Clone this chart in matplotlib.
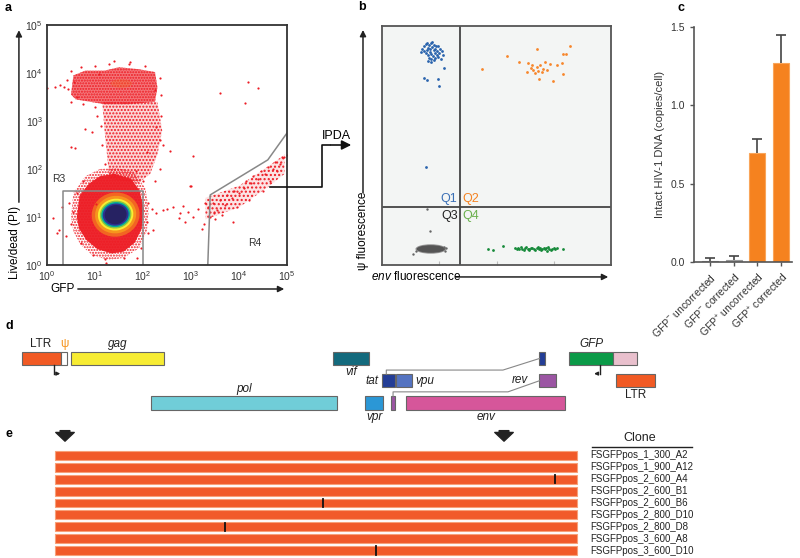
import numpy as np
import matplotlib
matplotlib.use('Agg')
import matplotlib.pyplot as plt
from matplotlib.patches import Polygon, Ellipse

plt.rcParams['font.family'] = ['Liberation Sans', 'DejaVu Sans']
plt.rcParams['mathtext.fontset'] = 'custom'
plt.rcParams['mathtext.rm'] = 'Liberation Sans'
plt.rcParams['mathtext.it'] = 'Liberation Sans:italic'
plt.rcParams['mathtext.bf'] = 'Liberation Sans:bold'
plt.rcParams['hatch.linewidth'] = 1.0

# ---------------- data ----------------
# panel a: flow cytometry (log10 units), dense populations as outlines
a_main_outline = [(0.62, 1.0), (0.68, 1.45), (0.88, 1.7), (1.1, 1.85), (1.4, 1.9), (1.75, 1.8),
                  (1.93, 1.55), (2.02, 1.15), (1.97, 0.75), (1.83, 0.47), (1.6, 0.28), (1.35, 0.24),
                  (1.05, 0.33), (0.82, 0.52), (0.67, 0.75)]
a_halo_outline = [(0.5, 1.0), (0.55, 1.5), (0.8, 1.85), (1.1, 2.0), (1.45, 2.02), (1.8, 1.95),
                  (2.05, 1.6), (2.12, 1.15), (2.08, 0.7), (1.92, 0.35), (1.6, 0.15), (1.3, 0.1),
                  (0.95, 0.2), (0.7, 0.42), (0.55, 0.7)]
a_column_outline = [(1.3, 1.8), (1.25, 2.3), (1.2, 2.8), (1.15, 3.4), (2.3, 3.4), (2.4, 2.8),
                    (2.3, 2.3), (2.15, 1.9), (1.9, 1.7)]
a_upper_outline = [(0.5, 3.55), (0.55, 3.95), (0.8, 4.05), (1.2, 4.05), (1.5, 4.12), (1.9, 4.08),
                   (2.25, 4.02), (2.3, 3.7), (2.25, 3.4), (1.7, 3.35), (1.2, 3.35), (0.9, 3.4), (0.6, 3.45)]
a_tail_outline = [(3.3, 1.4), (4.0, 1.65), (4.6, 2.05), (4.95, 2.3), (4.95, 1.9), (4.6, 1.62),
                  (4.0, 1.2), (3.3, 0.95)]
a_core_center = (1.43, 1.05)
a_core_rx = [0.50, 0.43, 0.37, 0.33, 0.30, 0.27, 0.23]
a_core_ry = [0.46, 0.39, 0.33, 0.29, 0.26, 0.23, 0.20]
a_pts_x = [0.01, 0.17, 0.27, 0.44, 0.56, 0.62, 1.40, 1.73, 1.08, 3.60, 4.19, 4.40, 4.12, 3.05, 2.56,
           0.51, 0.58, 3.01, 2.98, 0.13, 0.20, 0.24, 0.31, 1.87, 1.23, 2.42, 2.49, 2.63, 2.77, 2.74,
           2.875, 2.83, 2.94, 3.05, 3.15, 3.22, 3.27, 3.47, 3.88, 4.99, 4.93, 2.18, 2.28, 2.08, 2.35,
           2.28, 2.25, 0.93, 0.79, 1.03, 2.11, 2.21,
           0.55, 0.5, 0.62, 0.7, 0.95, 1.2, 1.6, 1.95, 2.08, 2.1, 2.0, 1.85, 0.75, 0.45, 0.4,
           0.35, 0.42, 0.5, 0.7, 1.0, 1.3, 1.7, 2.05, 2.35, 2.38, 0.5, 0.75, 1.0,
           1.12, 1.15, 1.2, 2.38, 2.42, 2.35, 2.25, 1.05,
           3.35, 3.45, 3.55, 3.6, 3.7, 3.75, 3.85, 3.9, 4.0, 4.1, 4.15, 4.25, 4.3, 4.4, 4.45, 4.55,
           4.6, 4.7, 4.75, 4.85, 4.9, 3.5, 3.65, 3.95, 4.2, 4.5, 3.3, 3.4, 4.65, 4.8]
a_pts_y = [3.68, 3.70, 3.75, 3.66, 3.82, 3.51, 4.26, 4.22, 3.98, 3.59, 3.82, 3.68, 3.38, 2.27, 2.38,
           2.46, 2.43, 1.65, 1.65, 0.97, 0.67, 0.72, 1.21, 0.14, 0.04, 1.15, 1.16, 1.20, 1.08, 0.97,
           0.90, 1.22, 1.11, 1.01, 1.16, 0.76, 0.86, 1.08, 0.90, 2.29, 2.26, 1.16, 1.08, 2.36, 2.60,
           2.88, 3.64, 2.78, 2.83, 1.28, 0.66, 0.73,
           1.1, 0.85, 1.5, 0.45, 0.2, 0.12, 0.15, 0.35, 0.9, 1.3, 1.75, 1.95, 1.75, 1.3, 0.6,
           3.7, 3.85, 4.05, 4.12, 4.15, 4.18, 4.18, 4.15, 3.9, 3.55, 3.4, 3.35, 3.3,
           2.9, 2.5, 2.1, 3.1, 2.5, 2.0, 1.75, 3.1,
           1.2, 1.3, 1.15, 1.35, 1.25, 1.45, 1.4, 1.55, 1.5, 1.6, 1.75, 1.7, 1.85, 1.8, 1.95, 1.9,
           2.05, 2.0, 2.15, 2.1, 2.25, 0.95, 1.05, 1.2, 1.35, 1.55, 1.3, 1.0, 1.75, 1.95]
a_gate_r3 = (0.33, 2.0, 1.54)  # x from, x to, top
a_gate_r4_x = [3.35, 3.4, 4.6, 5.0]
a_gate_r4_y = [0.0, 1.46, 2.19, 2.75]
a_ticks = [0, 1, 2, 3, 4, 5]

# panel b: IPDA droplet plot (arbitrary fluorescence units)
b_env_cut = 0.34
b_psi_cut = 0.243
bq1_x = [0.175, 0.182, 0.19, 0.198, 0.205, 0.212, 0.22, 0.228, 0.236, 0.245, 0.255, 0.262, 0.185,
         0.195, 0.203, 0.21, 0.218, 0.225, 0.232, 0.24, 0.248, 0.19, 0.2, 0.208, 0.215, 0.222, 0.23,
         0.238, 0.205, 0.215, 0.225, 0.232, 0.245, 0.2, 0.17, 0.268, 0.258, 0.213,
         0.272, 0.183, 0.195, 0.243, 0.249, 0.191]
bq1_y = [0.905, 0.918, 0.925, 0.93, 0.92, 0.928, 0.933, 0.922, 0.915, 0.918, 0.905, 0.895, 0.895,
         0.9, 0.91, 0.905, 0.912, 0.9, 0.905, 0.895, 0.888, 0.885, 0.878, 0.89, 0.882, 0.875, 0.885,
         0.878, 0.868, 0.862, 0.858, 0.865, 0.87, 0.855, 0.89, 0.88, 0.86, 0.848,
         0.823, 0.784, 0.774, 0.777, 0.749, 0.411]
bq2_x = [0.435, 0.545, 0.6, 0.632, 0.677, 0.821, 0.804, 0.789, 0.785, 0.792, 0.745, 0.687, 0.661,
         0.675, 0.69, 0.712, 0.719, 0.734, 0.705, 0.654, 0.668, 0.639, 0.763, 0.683, 0.698, 0.65]
bq2_y = [0.82, 0.875, 0.851, 0.808, 0.905, 0.918, 0.881, 0.881, 0.844, 0.799, 0.771, 0.778, 0.816,
         0.829, 0.836, 0.851, 0.816, 0.841, 0.819, 0.836, 0.802, 0.844, 0.836, 0.813, 0.809, 0.823]
bq3_center = (0.213, 0.067)
bq3_rx, bq3_ry = 0.062, 0.016
bq3_x = [0.197, 0.21, 0.134, 0.28, 0.275, 0.15, 0.27]
bq3_y = [0.233, 0.142, 0.046, 0.072, 0.06, 0.06, 0.075]
bq4_x = [0.464, 0.483, 0.527, 0.792, 0.581, 0.588, 0.594, 0.6, 0.606, 0.612, 0.618, 0.625, 0.631,
         0.637, 0.643, 0.65, 0.656, 0.662, 0.668, 0.675, 0.681, 0.687, 0.694, 0.7, 0.706, 0.712,
         0.718, 0.725, 0.731, 0.737, 0.743, 0.75, 0.756, 0.763, 0.64, 0.69, 0.72]
bq4_y = [0.066, 0.063, 0.081, 0.067, 0.07, 0.068, 0.072, 0.066, 0.074, 0.069, 0.064, 0.071, 0.076,
         0.068, 0.062, 0.07, 0.073, 0.066, 0.064, 0.071, 0.075, 0.069, 0.063, 0.068, 0.072, 0.066,
         0.07, 0.074, 0.067, 0.063, 0.069, 0.072, 0.066, 0.07, 0.066, 0.072, 0.06]

# panel c: intact proviral DNA
c_labels = [r'GFP$^{-}$ uncorrected', r'GFP$^{-}$ corrected',
            r'GFP$^{+}$ uncorrected', r'GFP$^{+}$ corrected']
c_values = [0.006, 0.012, 0.695, 1.272]
c_errors = [0.017, 0.024, 0.093, 0.174]

# panel d: genome map (nucleotide coordinates of the construct, reading frame row)
d_names = ['LTR5', 'psi', 'gag', 'pol', 'vif', 'vpr', 'tat1', 'rev1', 'vpu', 'env',
           'tat2', 'rev2', 'GFP', 'nef', 'LTR3']
d_start = [1, 634, 790, 2085, 5041, 5559, 5831, 5970, 6062, 6225, 8379, 8379, 8858, 9571, 9619]
d_end = [634, 720, 2292, 5096, 5619, 5850, 6045, 6045, 6310, 8795, 8469, 8653, 9571, 9959, 10251]
d_row = [0, 0, 0, 2, 0, 2, 1, 2, 1, 2, 0, 1, 0, 0, 1]

# panel e: near full-length sequences
e_clones = ['FSGFPpos_1_300_A2', 'FSGFPpos_1_900_A12', 'FSGFPpos_2_600_A4', 'FSGFPpos_2_600_B1',
            'FSGFPpos_2_600_B6', 'FSGFPpos_2_800_D10', 'FSGFPpos_2_800_D8', 'FSGFPpos_3_600_A8',
            'FSGFPpos_3_600_D10']
e_mutation = [None, None, 8631, None, 4872, None, 3285, None, 5731]
e_seq_start, e_seq_end = 531, 8987
e_probes = [693, 7805]

# ---------------- layout helpers ----------------
W, H = 800, 558
fig = plt.figure(figsize=(8, 5.58), dpi=100)


def px_axes(x0, y0, x1, y1):
    return fig.add_axes([x0 / W, 1 - y1 / H, (x1 - x0) / W, (y1 - y0) / H])


arrow_kw = dict(arrowstyle='-|>', color='#222', lw=1.1, mutation_scale=9)

# ---------------- panel a ----------------
axa = px_axes(47, 25, 287, 265)
red = '#ed1c24'
axa.add_patch(Polygon(a_column_outline, closed=True, facecolor=red, alpha=0.18, lw=0))
axa.add_patch(Polygon(a_column_outline, closed=True, facecolor='none', edgecolor=red, lw=0, hatch='.....'))
axa.add_patch(Polygon(a_tail_outline, closed=True, facecolor=red, alpha=0.12, lw=0))
axa.add_patch(Polygon(a_tail_outline, closed=True, facecolor='none', edgecolor=red, lw=0, hatch='....'))
axa.add_patch(Polygon(a_upper_outline, closed=True, facecolor=red, alpha=0.6, lw=0))
axa.add_patch(Polygon(a_upper_outline, closed=True, facecolor='none', edgecolor=red, lw=0, hatch='......'))
axa.add_patch(Polygon(a_halo_outline, closed=True, facecolor='none', edgecolor=red, lw=0, hatch='......'))
axa.add_patch(Polygon(a_main_outline, closed=True, color=red, alpha=0.95, lw=0))
axa.add_patch(Ellipse((1.55, 3.78), 0.45, 0.18, color='#f26522', alpha=0.35, lw=0))
core_colors = ['#f26522', '#f7941d', '#f9ed32', '#8dc63f', '#00a99d', '#2e3192', '#262262']
for rx, ry, col in zip(a_core_rx, a_core_ry, core_colors):
    axa.add_patch(Ellipse(a_core_center, 2 * rx, 2 * ry, angle=10, color=col, lw=0))
axa.scatter(a_pts_x, a_pts_y, s=2.5, color=red, lw=0)
x0, x1, top = a_gate_r3
axa.plot([x0, x0, x1, x1], [0, top, top, 0], color='#888', lw=1.1)
axa.plot(a_gate_r4_x, a_gate_r4_y, color='#888', lw=1.1)
axa.text(0.1, 1.73, 'R3', fontsize=7.5, color='#333')
axa.text(4.2, 0.4, 'R4', fontsize=7.5, color='#333')
axa.set_xlim(0, 5)
axa.set_ylim(0, 5)
axa.set_xticks(a_ticks)
axa.set_yticks(a_ticks)
axa.set_xticklabels([f'$10^{{{k}}}$' for k in a_ticks])
axa.set_yticklabels([f'$10^{{{k}}}$' for k in a_ticks])
axa.tick_params(length=0, labelsize=7.5, labelcolor='#333', pad=3)
for s in axa.spines.values():
    s.set_color('#333')
    s.set_linewidth(1.3)
axa.annotate('', xy=(-0.117, 0.99), xytext=(-0.117, 0.25), xycoords='axes fraction',
             arrowprops=arrow_kw, annotation_clip=False)
axa.text(-0.133, 0.095, 'Live/dead (PI)', rotation=90, ha='center', va='center',
         fontsize=8.5, transform=axa.transAxes)
axa.annotate('', xy=(1.0, -0.1), xytext=(0.117, -0.1), xycoords='axes fraction',
             arrowprops=arrow_kw, annotation_clip=False)
axa.text(0.063, -0.1, 'GFP', ha='center', va='center', fontsize=8.5, transform=axa.transAxes)

# ---------------- panel b ----------------
axb = px_axes(382, 26, 611, 265)
axb.set_facecolor('#f3f5f4')
axb.add_patch(Ellipse(bq3_center, 2 * bq3_rx + 0.01, 2 * bq3_ry + 0.008, color='#9a9a9a', lw=0))
axb.add_patch(Ellipse(bq3_center, 2 * bq3_rx, 2 * bq3_ry, color='#555', lw=0))
axb.scatter(bq3_x, bq3_y, s=3, color='#666', lw=0)
axb.scatter(bq1_x, bq1_y, s=4, color='#2a64ad', lw=0)
axb.scatter(bq2_x, bq2_y, s=4, color='#f7862a', lw=0)
axb.scatter(bq4_x, bq4_y, s=4, color='#168a3a', lw=0)
axb.axvline(b_env_cut, color='#444', lw=1.3)
axb.axhline(b_psi_cut, color='#444', lw=1.3)
axb.text(b_env_cut - 0.01, b_psi_cut + 0.008, 'Q1', ha='right', va='bottom', fontsize=9, color='#3a6fb5')
axb.text(b_env_cut + 0.01, b_psi_cut + 0.008, 'Q2', ha='left', va='bottom', fontsize=9, color='#f58220')
axb.text(b_env_cut - 0.01, b_psi_cut - 0.012, 'Q3', ha='right', va='top', fontsize=9, color='#222')
axb.text(b_env_cut + 0.01, b_psi_cut - 0.012, 'Q4', ha='left', va='top', fontsize=9, color='#6ab04c')
axb.set_xlim(0, 1)
axb.set_ylim(0, 1)
axb.set_xticks([0.25, 0.5, 0.75])
axb.set_yticks([])
axb.tick_params(axis='x', direction='in', length=3, color='#bbb', labelbottom=False)
for s in axb.spines.values():
    s.set_color('#555')
    s.set_linewidth(1.3)
axb.annotate('', xy=(-0.083, 0.995), xytext=(-0.083, 0.29), xycoords='axes fraction',
             arrowprops=arrow_kw, annotation_clip=False)
axb.text(-0.083, 0.145, 'ψ fluorescence', rotation=90, ha='center', va='center',
         fontsize=8.5, transform=axb.transAxes)
axb.annotate('', xy=(1.0, -0.05), xytext=(0.31, -0.05), xycoords='axes fraction',
             arrowprops=arrow_kw, annotation_clip=False)
axb.text(0.15, -0.05, r'$\it{env}$ fluorescence', ha='center', va='center',
         fontsize=8.5, transform=axb.transAxes)

# ---------------- panel c ----------------
axc = px_axes(694, 27, 792, 262)
xc = np.arange(len(c_values))
vals = np.array(c_values)
errs = np.array(c_errors)
axc.bar(xc, vals, width=0.675, color=['#a6a6a6', '#a6a6a6', '#f5821f', '#f5821f'],
        edgecolor=['#999', '#999', '#f9a55a', '#f9a55a'], lw=0.8)
axc.vlines(xc, vals, vals + errs, color='#444', lw=1.2)
axc.hlines(vals + errs, xc - 0.21, xc + 0.21, color='#444', lw=1.2)
axc.set_xlim(-0.675, 3.46)
axc.set_ylim(0, 1.5)
axc.set_yticks([0, 0.5, 1.0, 1.5])
axc.set_yticklabels(['0.0', '0.5', '1.0', '1.5'])
axc.set_xticks(xc)
axc.set_xticklabels(c_labels, rotation=45, ha='right', rotation_mode='anchor')
axc.tick_params(labelsize=7.5, labelcolor='#333', color='#555', length=3, width=1)
axc.set_ylabel('Intact HIV-1 DNA (copies/cell)', fontsize=8, color='#333', labelpad=4)
for side in ['top', 'right']:
    axc.spines[side].set_visible(False)
for side in ['left', 'bottom']:
    axc.spines[side].set_color('#555')
    axc.spines[side].set_linewidth(1.2)

# ---------------- panel d ----------------
axd = px_axes(0, 335, 800, 425)
axd.set_xlim(-360, 12600)
axd.set_ylim(2.99, -1.056)
axd.axis('off')
gene_colors = {'LTR5': '#f15a24', 'psi': 'white', 'gag': '#f7ec33', 'pol': '#70cdd8',
               'vif': '#136a7d', 'vpr': '#2b97d6', 'tat1': '#233d96', 'rev1': '#9b55a3',
               'vpu': '#5473c1', 'env': '#d6569a', 'tat2': '#233d96', 'rev2': '#9b55a3',
               'GFP': '#0b9a48', 'nef': '#e9c0cd', 'LTR3': '#f15a24'}
genes = {}
for n, s, e, r in zip(d_names, d_start, d_end, d_row):
    genes[n] = (s, e, r)
    axd.barh(r, e - s, left=s, height=0.6, color=gene_colors[n], edgecolor='#666', lw=0.8)


def gmid(n):
    return (genes[n][0] + genes[n][1]) / 2


lab = dict(fontsize=8.5, color='#222')
axd.text(gmid('LTR5') - 20, -0.36, 'LTR', ha='center', va='bottom', **lab)
axd.text(gmid('psi'), -0.36, 'ψ', ha='center', va='bottom', fontsize=8.5, color='#f7941d')
axd.text(gmid('gag'), -0.36, 'gag', ha='center', va='bottom', style='italic', **lab)
axd.text(gmid('pol'), 1.64, 'pol', ha='center', va='bottom', style='italic', **lab)
axd.text(gmid('vif'), 0.36, 'vif', ha='center', va='top', style='italic', **lab)
axd.text(genes['tat1'][0] - 60, 1, 'tat', ha='right', va='center', style='italic', **lab)
axd.text(genes['vpu'][1] + 60, 1, 'vpu', ha='left', va='center', style='italic', **lab)
axd.text(gmid('vpr'), 2.36, 'vpr', ha='center', va='top', style='italic', **lab)
axd.text(gmid('env'), 2.36, 'env', ha='center', va='top', style='italic', **lab)
axd.text(genes['rev2'][0] - 180, 0.95, 'rev', ha='right', va='center', style='italic', **lab)
axd.text(gmid('GFP'), -0.36, 'GFP', ha='center', va='bottom', style='italic', **lab)
axd.text(gmid('LTR3'), 1.36, 'LTR', ha='center', va='top', **lab)
# splice connectors
tx = gmid('tat1') - 40
axd.plot([tx, tx, 7788, genes['tat2'][0]], [0.7, 0.52, 0.52, 0.0], color='#888', lw=0.8)
rx = gmid('rev1')
axd.plot([rx, rx, 7869, genes['rev2'][0]], [1.7, 1.5, 1.5, 1.0], color='#888', lw=0.8)
# promoters
p5 = 520
axd.plot([p5, p5], [0.3, 0.68], color='#222', lw=1)
axd.annotate('', xy=(p5 + 140, 0.68), xytext=(p5, 0.68), arrowprops=dict(arrowstyle='-|>', color='#222', lw=1, mutation_scale=5))
p3 = 9360
axd.plot([p3, p3], [0.3, 0.68], color='#222', lw=1)
axd.annotate('', xy=(p3 - 140, 0.68), xytext=(p3, 0.68), arrowprops=dict(arrowstyle='-|>', color='#222', lw=1, mutation_scale=5))

# ---------------- panel e ----------------
axe = px_axes(0, 425, 800, 558)
axe.set_xlim(-360, 12600)
axe.set_ylim(8.61, -2.54)
axe.axis('off')
rows = np.arange(len(e_clones))
axe.barh(rows, e_seq_end - e_seq_start, left=e_seq_start, height=0.75,
         color='#f15a29', edgecolor='#f7a078', lw=0.8)
for i, m in enumerate(e_mutation):
    if m is not None:
        axe.plot([m, m], [i - 0.36, i + 0.36], color='#111', lw=1.3)
for i, name in enumerate(e_clones):
    axe.text(9198, i, name, va='center', ha='left', fontsize=7, color='#222')
axe.text(10008, -1.45, 'Clone', ha='center', va='center', fontsize=9, color='#222')
axe.plot([9230, 10850], [-0.72, -0.72], color='#222', lw=1)
for p in e_probes:
    axe.annotate('', xy=(p, -0.95), xytext=(p, -2.3),
                 arrowprops=dict(arrowstyle='simple,head_length=0.45,head_width=0.95,tail_width=0.5',
                                 color='#222', mutation_scale=14))

# ---------------- overlay: panel letters and IPDA connector ----------------
ov = fig.add_axes([0, 0, 1, 1], zorder=10)
ov.set_xlim(0, W)
ov.set_ylim(H, 0)
ov.axis('off')
for letter, lx, ly in [('a', 5, 8), ('b', 358, 7), ('c', 677, 8), ('d', 5, 326), ('e', 5, 434)]:
    ov.text(lx, ly, letter, fontsize=9, fontweight='bold', ha='left', va='center')
ov.plot([270, 322, 322, 330], [187, 187, 145, 145], color='#111', lw=1.2)
ov.annotate('', xy=(354, 145), xytext=(328, 145),
            arrowprops=dict(arrowstyle='-|>', color='#111', lw=1.2, mutation_scale=14))
ov.text(336, 136, 'IPDA', ha='center', va='center', fontsize=9)

fig.savefig('out.png', dpi=100)
